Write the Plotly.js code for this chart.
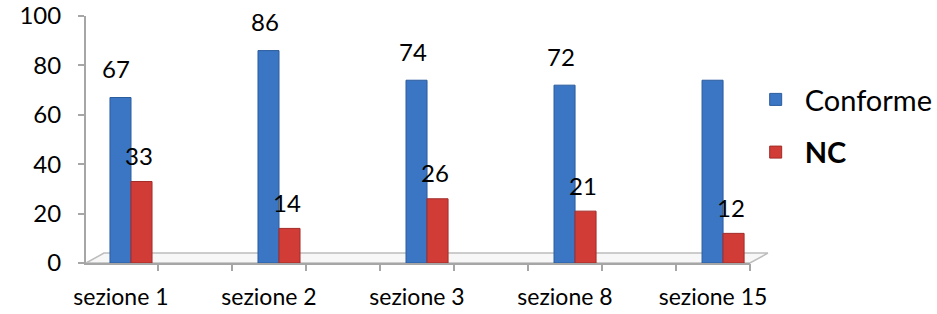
<!DOCTYPE html>
<html>
<head>
<meta charset="utf-8">
<script src="https://cdn.plot.ly/plotly-3.0.1.min.js"></script>
<style>html,body{margin:0;padding:0;background:#fff;}#chart{width:937px;height:314px;}</style>
</head>
<body>
<div id="chart"></div>
<script>
// Data
var categories = ["sezione 1", "sezione 2", "sezione 3", "sezione 8", "sezione 15"];
var conforme = [67, 86, 74, 72, 74];          // last bar is clipped in the reference, no label shown
var conformeLabels = ["67", "86", "74", "72", ""];
var nc = [33, 14, 26, 21, 12];
var ncLabels = ["33", "14", "26", "21", "12"];
var yTicks = [0, 20, 40, 60, 80, 100];

var font = "Lato, 'Open Sans', sans-serif";

var traces = [
  {
    type: "bar", name: "Conforme", x: categories, y: conforme,
    width: 0.142, offset: -0.074,
    marker: {color: "#3A76C4", line: {color: "#2B5C9E", width: 1}},
    legendgroup: "a"
  },
  {
    type: "bar", name: "<b>NC</b>", x: categories, y: nc,
    width: 0.142, offset: 0.068,
    marker: {color: "#D23C37", line: {color: "#A22C28", width: 1}},
    legendgroup: "b"
  },
  {
    type: "scatter", x: [0], y: [0], xaxis: "x2", mode: "markers",
    marker: {opacity: 0}, showlegend: false, hoverinfo: "skip"
  }
];

// value labels built from the data arrays
var annotations = [];
categories.forEach(function (c, i) {
  if (conformeLabels[i]) {
    annotations.push({x: i - 0.003, y: conforme[i], text: conformeLabels[i], showarrow: false,
      xref: "x", yref: "y", yanchor: "middle", yshift: 29, xshift: -4,
      font: {size: 24, family: font, color: "#000"}});
  }
  if (ncLabels[i]) {
    annotations.push({x: i + 0.139, y: nc[i], text: ncLabels[i], showarrow: false,
      xref: "x", yref: "y", yanchor: "middle", yshift: 26, xshift: -3,
      font: {size: 24, family: font, color: "#000"}});
  }
});

var layout = {
  width: 937, height: 314,
  margin: {l: 86, r: 187, t: 16, b: 51, autoexpand: false},
  paper_bgcolor: "#fff", plot_bgcolor: "rgba(0,0,0,0)",
  font: {family: font, size: 18, color: "#000"},
  showlegend: true,
  legend: {
    x: 0.995, y: 0.765, xanchor: "left", yanchor: "top",
    font: {size: 29, family: font}, tracegroupgap: 12,
    itemwidth: 48, bgcolor: "rgba(0,0,0,0)"
  },
  xaxis: {
    type: "category", range: [-0.236, 4.25],
    showline: true, linecolor: "#A6A6A6", linewidth: 2,
    ticks: "", showgrid: false, zeroline: false,
    tickfont: {size: 23, family: font}, ticklabelstandoff: 12
  },
  xaxis2: {
    overlaying: "x", range: [-0.236, 4.25], side: "bottom",
    tickvals: [-0.25, 0.25, 0.75, 1.25, 1.75, 2.25, 2.75, 3.25, 3.75, 4.25],
    ticks: "outside", ticklen: 7, tickwidth: 2, tickcolor: "#A6A6A6",
    showticklabels: false, showgrid: false, zeroline: false, showline: false
  },
  yaxis: {
    range: [0, 100], tickvals: yTicks,
    showline: true, linecolor: "#A6A6A6", linewidth: 2,
    ticks: "outside", ticklen: 6, tickwidth: 2, tickcolor: "#A6A6A6",
    showgrid: false, zeroline: false,
    tickfont: {size: 24, family: font}, ticklabelstandoff: 12
  },
  annotations: annotations,
  shapes: [
    {type: "path", xref: "paper", yref: "paper",
     path: "M 0 0 L 0.027 0.04 L 1.027 0.04 L 1 0 Z",
     fillcolor: "#F7F7F7", line: {color: "#BDBDBD", width: 1.5}, layer: "below"}
  ]
};

Plotly.newPlot("chart", traces, layout, {displayModeBar: false, staticPlot: true});
</script>
</body>
</html>
